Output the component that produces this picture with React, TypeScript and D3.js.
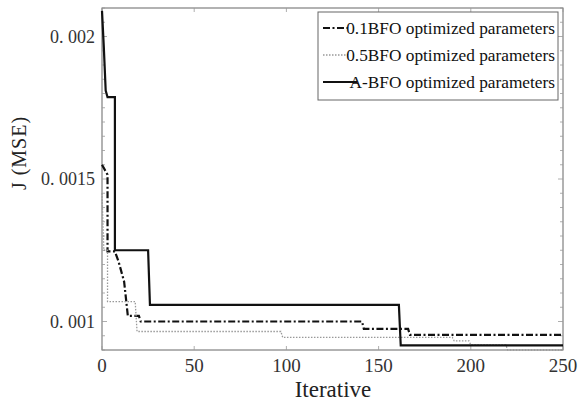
import React from "react";
import * as d3 from "d3";

// Convergence of the cost J (MSE) over iterations for three BFO variants.
// Each series is a list of breakpoints (iteration, value); repeated
// iterations form the vertical drops of the step curves.
const bfo01Iter = [0, 3, 3, 7, 9, 12, 14, 20, 21, 141, 142, 166, 167, 250];
const bfo01Val = [0.00155, 0.001515, 0.001246, 0.001246, 0.00121, 0.00114, 0.00102, 0.00102, 0.001, 0.001, 0.000974, 0.000974, 0.000953, 0.000953];

const bfo05Iter = [0, 1, 3, 3, 18, 19, 97, 98, 190, 191, 199, 200, 219, 220, 250];
const bfo05Val = [0.00145, 0.00125, 0.00125, 0.00107, 0.00107, 0.000965, 0.000965, 0.000944, 0.000944, 0.000932, 0.000932, 0.000918, 0.000918, 0.0009, 0.0009];

const abfoIter = [0, 1, 2, 3, 7, 7, 25, 26, 161, 162, 250];
const abfoVal = [0.00209, 0.00196, 0.00181, 0.001787, 0.001787, 0.00125, 0.00125, 0.001058, 0.001058, 0.000916, 0.000916];

const seriesNames = [
  "0.1BFO optimized parameters",
  "0.5BFO optimized parameters",
  "A-BFO optimized parameters",
];

const xTicks = [0, 50, 100, 150, 200, 250];
const yTicks = [0.001, 0.0015, 0.002];
const yTickLabels = ["0. 001", "0. 0015", "0. 002"];
const xDomain = [0, 250];
const yDomain = [0.0009, 0.0021];

const W = 582;
const H = 402;
const M = { left: 102, right: 19, top: 8, bottom: 52 };

export default function App() {
  const x = d3.scaleLinear().domain(xDomain).range([M.left, W - M.right]);
  const y = d3.scaleLinear().domain(yDomain).range([H - M.bottom, M.top]);

  const toPts = (it: number[], v: number[]) => it.map((d, i) => [d, v[i]] as [number, number]);
  const line = d3
    .line<[number, number]>()
    .x((d) => x(d[0]))
    .y((d) => y(d[1]));

  const series = [
    { pts: toPts(bfo01Iter, bfo01Val), stroke: "#111", width: 2.2, dash: "7,2.5,2,2.5" },
    { pts: toPts(bfo05Iter, bfo05Val), stroke: "#999", width: 1.3, dash: "1.5,1.5" },
    { pts: toPts(abfoIter, abfoVal), stroke: "#111", width: 2.2, dash: "" },
  ];

  // minor y ticks every 0.00005
  const minorY = d3.range(0.0009, 0.00210001, 0.00005);
  const x0 = M.left;
  const x1 = W - M.right;
  const y0 = H - M.bottom;
  const y1 = M.top;
  const axisColor = "#666";

  const legendX = 318;
  const legendY = 12;
  const legendW = 240;
  const legendH = 88;
  const sampleEnds = [348, 348, 357];

  return (
    <svg
      width={W}
      height={H}
      style={{ position: "absolute", left: 0, top: 0, background: "#fff" }}
      fontFamily="'Liberation Serif', 'Times New Roman', serif"
    >
      <rect x={0} y={0} width={W} height={H} fill="#fff" />
      {/* axis box */}
      <rect x={x0} y={y1} width={x1 - x0} height={y0 - y1} fill="none" stroke={axisColor} strokeWidth={1} />

      {/* minor / major y ticks on left and right */}
      {minorY.map((v, i) => {
        const isMajor = yTicks.some((t) => Math.abs(t - v) < 1e-9);
        const len = isMajor ? 5 : 3;
        return (
          <g key={"my" + i} stroke="#999" strokeWidth={0.8}>
            <line x1={x0} x2={x0 + len} y1={y(v)} y2={y(v)} />
            <line x1={x1} x2={x1 - len} y1={y(v)} y2={y(v)} />
          </g>
        );
      })}

      {/* x ticks on bottom and top */}
      {xTicks.map((t) => (
        <g key={"xt" + t} stroke="#999" strokeWidth={0.8}>
          <line x1={x(t)} x2={x(t)} y1={y0} y2={y0 - 4} />
          <line x1={x(t)} x2={x(t)} y1={y1} y2={y1 + 4} />
        </g>
      ))}

      {/* series */}
      {series.map((s, i) => (
        <path
          key={"s" + i}
          d={line(s.pts) || ""}
          fill="none"
          stroke={s.stroke}
          strokeWidth={s.width}
          strokeDasharray={s.dash || undefined}
          strokeLinejoin="miter"
        />
      ))}

      {/* x tick labels */}
      {xTicks.map((t) => (
        <text key={"xl" + t} x={x(t)} y={372} textAnchor="middle" fontSize={19} fill="#333">
          {t}
        </text>
      ))}

      {/* y tick labels */}
      {yTicks.map((t, i) => (
        <text key={"yl" + t} x={95} y={y(t)} dy="0.35em" textAnchor="end" fontSize={18} fill="#333">
          {yTickLabels[i]}
        </text>
      ))}

      {/* axis titles */}
      <text x={333} y={397} textAnchor="middle" fontSize={23} fill="#222">
        Iterative
      </text>
      <text
        transform={`translate(26, 153) rotate(-90)`}
        textAnchor="middle"
        fontSize={20}
        letterSpacing={1}
        fill="#222"
      >
        J (MSE)
      </text>

      {/* legend */}
      <rect x={legendX} y={legendY} width={legendW} height={legendH} fill="#fff" stroke="#666" strokeWidth={1} />
      {series.map((s, i) => {
        const ly = 28 + i * 27;
        return (
          <g key={"lg" + i}>
            <line
              x1={323}
              x2={sampleEnds[i]}
              y1={ly}
              y2={ly}
              stroke={s.stroke}
              strokeWidth={s.width}
              strokeDasharray={s.dash || undefined}
            />
            <text x={555} y={ly} dy="0.35em" textAnchor="end" fontSize={17.3} fill="#111">
              {seriesNames[i]}
            </text>
          </g>
        );
      })}
    </svg>
  );
}
